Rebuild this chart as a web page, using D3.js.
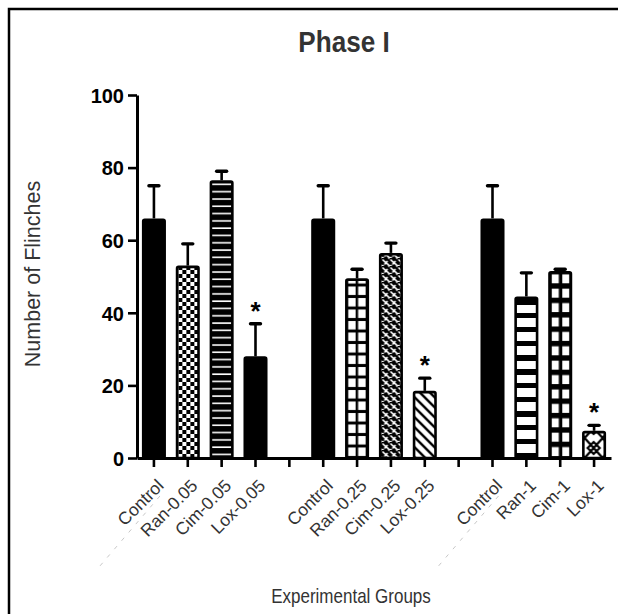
<!DOCTYPE html>
<html>
<head>
<meta charset="utf-8">
<script src="https://cdn.jsdelivr.net/npm/d3@7"></script>
<style>
    html, body {
        margin: 0;
        padding: 0;
        background: #fff;
    }
    #chart {
        width: 618px;
        height: 614px;
    }
    .tick-label-x {
        font-family: "Liberation Sans", Arial, sans-serif;
        font-size: 17.5px;
        fill: #333;
    }
    .tick-label-y {
        font-family: "Liberation Sans", Arial, sans-serif;
        font-size: 20px;
        font-weight: bold;
        fill: #000;
    }
    .axis-title {
        font-family: "Liberation Sans", Arial, sans-serif;
        fill: #333;
    }
</style>
</head>
<body>
<div id="chart"></div>
<script>
// Data (gap slots are empty strings)
const labels = ['Control', 'Ran-0.05', 'Cim-0.05', 'Lox-0.05', '',
                'Control', 'Ran-0.25', 'Cim-0.25', 'Lox-0.25', '',
                'Control', 'Ran-1', 'Cim-1', 'Lox-1'];
const means = [66, 53, 76.5, 28, null,
               66, 49.5, 56.5, 18.5, null,
               66, 44.5, 51.5, 7.5];
const errTops = [75, 59, 79, 37, null,
                 75, 52, 59.2, 22, null,
                 75, 51, 52, 9];
const fills = ['solid', 'checker', 'hstripe', 'solid', null,
               'solid', 'grid', 'weave', 'diag', null,
               'solid', 'hbars', 'bigGrid', 'diamond'];
const significant = [false, false, false, true, false,
                     false, false, false, true, false,
                     false, false, false, true];
const yTicks = [0, 20, 40, 60, 80, 100];
const chartTitle = 'Phase I';
const xTitle = 'Experimental Groups';
const yTitle = 'Number of Flinches';

class PhaseChart {
    constructor(containerId) {
        this.width = 618;
        this.height = 614;
        this.margin = { left: 137, right: 7, top: 95, bottom: 156 };
        this.sw = 2.6;
        this.svg = d3.select(`#${containerId}`)
            .append('svg')
            .attr('width', this.width)
            .attr('height', this.height);
        this.defs = this.svg.append('defs');
    }

    initScales() {
        const m = this.margin;
        this.x = d3.scaleBand()
            .domain(d3.range(labels.length))
            .range([m.left, this.width - m.right])
            .paddingInner(0.29)
            .paddingOuter(0.145);
        this.y = d3.scaleLinear()
            .domain([0, 100])
            .range([this.height - m.bottom, m.top]);
    }

    initPatterns() {
        // each pattern is used by one bar only, so anchor its tile to that bar
        const origin = kind => {
            const i = fills.indexOf(kind);
            return [this.x(i) + this.sw, this.y(0)];
        };
        const pat = (id, w, h) => {
            const [ox, oy] = origin(id);
            return this.defs.append('pattern')
                .attr('id', id)
                .attr('patternUnits', 'userSpaceOnUse')
                .attr('x', ox)
                .attr('y', oy)
                .attr('width', w)
                .attr('height', h);
        };

        // checkerboard
        let p = pat('checker', 8, 8);
        p.append('rect').attr('width', 8).attr('height', 8).attr('fill', '#fff');
        p.append('rect').attr('width', 4).attr('height', 4).attr('fill', '#000');
        p.append('rect').attr('x', 4).attr('y', 4).attr('width', 4).attr('height', 4).attr('fill', '#000');

        // black with thin white horizontal lines
        p = pat('hstripe', 8, 7.3);
        p.append('rect').attr('width', 8).attr('height', 7.3).attr('fill', '#000');
        p.append('rect').attr('y', 3).attr('width', 8).attr('height', 1.6).attr('fill', '#fff');

        // grid of white cells
        p = pat('grid', 10, 11.5);
        p.append('rect').attr('width', 10).attr('height', 11.5).attr('fill', '#000');
        p.append('rect').attr('x', 0.5).attr('y', 1).attr('width', 7.5).attr('height', 8.5).attr('fill', '#fff');

        // woven: black ground with staggered white dashes
        p = pat('weave', 8, 8);
        p.append('rect').attr('width', 8).attr('height', 8).attr('fill', '#000');
        p.append('path').attr('d', 'M1,1.5L4.5,5M5,-2.5L8.5,1M-3,5L0.5,8.5M5,5L8.5,8.5M6,3L3,6.5M2,7L-1,10.5M10,7L7,10.5')
            .attr('stroke', '#fff').attr('stroke-width', 1.7);

        // back-slash diagonal lines
        p = pat('diag', 10, 10);
        p.append('rect').attr('width', 10).attr('height', 10).attr('fill', '#fff');
        p.append('path').attr('d', 'M0,0L10,10M-5,5L5,15M5,-5L15,5')
            .attr('stroke', '#000').attr('stroke-width', 2.4);

        // thick horizontal bars
        p = pat('hbars', 10, 14);
        p.append('rect').attr('width', 10).attr('height', 14).attr('fill', '#fff');
        p.append('rect').attr('y', 9).attr('width', 10).attr('height', 5).attr('fill', '#000');

        // big grid
        p = pat('bigGrid', 10.5, 14.4);
        p.append('rect').attr('width', 10.5).attr('height', 14.4).attr('fill', '#000');
        p.append('rect').attr('x', 1).attr('y', 3.5).attr('width', 7).attr('height', 9).attr('fill', '#fff');

        // cross + diamond
        p = pat('diamond', 18, 20);
        p.append('rect').attr('width', 18).attr('height', 20).attr('fill', '#fff');
        p.append('path').attr('d', 'M0,0L18,20M18,0L0,20M9,4L15,10L9,16L3,10Z')
            .attr('stroke', '#000').attr('stroke-width', 2.2).attr('fill', 'none');
    }

    fillFor(kind) {
        return kind === 'solid' ? '#000' : `url(#${kind})`;
    }

    drawFrame() {
        this.svg.append('path')
            .attr('d', `M9,${this.height}V9H${this.width}`)
            .attr('fill', 'none')
            .attr('stroke', '#000')
            .attr('stroke-width', 2.5);
    }

    drawBars() {
        const x = this.x, y = this.y;
        const sw = this.sw;
        const bars = d3.range(labels.length).filter(i => means[i] != null);

        // error bars first, so the bar outline sits over them
        const eb = this.svg.append('g').attr('class', 'errors');
        eb.selectAll('line.stem')
            .data(bars)
            .join('line')
            .attr('class', 'stem')
            .attr('x1', i => x(i) + x.bandwidth() / 2)
            .attr('x2', i => x(i) + x.bandwidth() / 2)
            .attr('y1', i => y(means[i]))
            .attr('y2', i => y(errTops[i]))
            .attr('stroke', '#000')
            .attr('stroke-width', 2.6);
        eb.selectAll('line.cap')
            .data(bars)
            .join('line')
            .attr('class', 'cap')
            .attr('x1', i => x(i) + x.bandwidth() / 2 - 5)
            .attr('x2', i => x(i) + x.bandwidth() / 2 + 5)
            .attr('y1', i => y(errTops[i]))
            .attr('y2', i => y(errTops[i]))
            .attr('stroke', '#000')
            .attr('stroke-linecap', 'round')
            .attr('stroke-width', 3.4);

        this.svg.append('g').attr('class', 'bars')
            .selectAll('rect')
            .data(bars)
            .join('rect')
            .attr('x', i => x(i) + sw / 2)
            .attr('y', i => y(means[i]) + sw / 2)
            .attr('width', x.bandwidth() - sw)
            .attr('height', i => y(0) - y(means[i]) - sw / 2)
            .attr('rx', 1.5)
            .attr('fill', i => this.fillFor(fills[i]))
            .attr('stroke', '#000')
            .attr('stroke-width', sw);

        // asterisks for significance
        this.svg.append('g').attr('class', 'stars')
            .selectAll('text')
            .data(bars.filter(i => significant[i]))
            .join('text')
            .attr('x', i => x(i) + x.bandwidth() / 2)
            .attr('y', i => y(errTops[i]) - 4)
            .attr('text-anchor', 'middle')
            .attr('font-family', '"Liberation Sans", Arial, sans-serif')
            .attr('font-size', 26)
            .attr('font-weight', 'bold')
            .attr('fill', '#000')
            .text('*');
    }

    drawAxes() {
        const x = this.x, y = this.y;

        const xAxis = this.svg.append('g')
            .attr('transform', `translate(0,${y(0)})`)
            .call(d3.axisBottom(x).tickSize(9).tickSizeOuter(0).tickFormat(i => labels[i]));
        xAxis.select('.domain').attr('stroke-width', 3);
        xAxis.selectAll('.tick line').attr('stroke-width', 2.6);
        xAxis.selectAll('.tick text')
            .attr('class', 'tick-label-x')
            .attr('text-anchor', 'end')
            .attr('font-size', null)
            .attr('font-family', null)
            .attr('fill', null)
            .attr('dy', '0.35em')
            .attr('transform', 'translate(-2,16) rotate(-45)');

        // faint scanning artefacts trailing the two outer "Control" labels
        xAxis.selectAll('.ghost')
            .data([0, 10])
            .join('line')
            .attr('class', 'ghost')
            .attr('x1', i => x(i) + x.bandwidth() / 2 + 6)
            .attr('y1', 38)
            .attr('x2', i => x(i) + x.bandwidth() / 2 - 54)
            .attr('y2', 108)
            .attr('stroke', '#c8c8c8')
            .attr('stroke-width', 1)
            .attr('stroke-dasharray', '4,7');

        const yAxis = this.svg.append('g')
            .attr('transform', `translate(${this.margin.left},0)`)
            .call(d3.axisLeft(y).tickValues(yTicks).tickSize(9).tickSizeOuter(0));
        yAxis.select('.domain').attr('stroke-width', 3);
        yAxis.selectAll('.tick line').attr('stroke-width', 2.6);
        yAxis.selectAll('.tick text')
            .attr('class', 'tick-label-y')
            .attr('font-size', null)
            .attr('font-family', null)
            .attr('fill', null)
            .attr('x', -13)
            .attr('dy', '0.36em');
    }

    drawTitles() {
        this.svg.append('text')
            .attr('class', 'axis-title')
            .attr('transform', 'translate(344,52) scale(0.9,1)')
            .attr('text-anchor', 'middle')
            .attr('font-size', 29)
            .attr('font-weight', 'bold')
            .text(chartTitle);

        this.svg.append('text')
            .attr('class', 'axis-title')
            .attr('transform', 'translate(351,603) scale(0.85,1)')
            .attr('text-anchor', 'middle')
            .attr('font-size', 20)
            .text(xTitle);

        this.svg.append('text')
            .attr('class', 'axis-title')
            .attr('transform', 'translate(40,274) rotate(-90)')
            .attr('text-anchor', 'middle')
            .attr('font-size', 21.5)
            .text(yTitle);
    }

    render() {
        console.log('[PhaseChart] rendering');
        this.initScales();
        this.initPatterns();
        this.drawFrame();
        this.drawBars();
        this.drawAxes();
        this.drawTitles();
    }
}

new PhaseChart('chart').render();
</script>
</body>
</html>
